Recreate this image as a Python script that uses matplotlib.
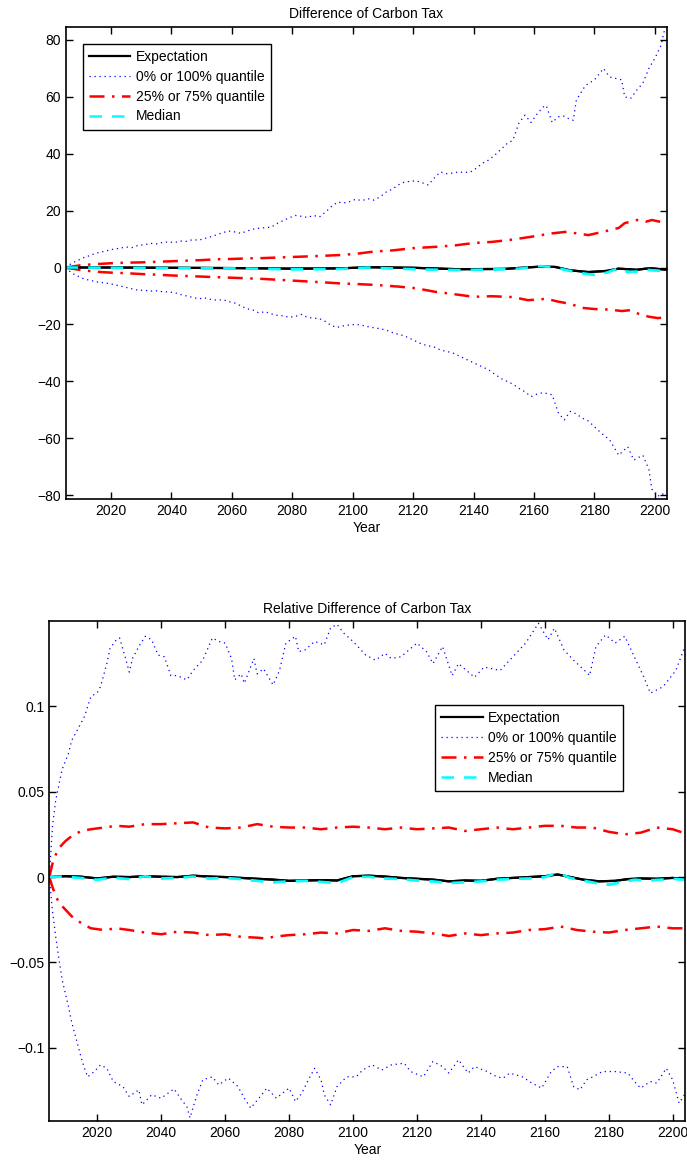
import matplotlib
matplotlib.use("Agg")
import matplotlib.pyplot as plt

plt.rcParams['font.family'] = ['Liberation Sans', 'DejaVu Sans']
plt.rcParams['font.size'] = 10

# --- absolute difference of carbon tax ---
top_max_years = [2005, 2007, 2009, 2011, 2013, 2015, 2017, 2019, 2021, 2023, 2025, 2027, 2029, 2031, 2033,
                 2035, 2037, 2039, 2041, 2043, 2045, 2047, 2049, 2051, 2053, 2055, 2057, 2059, 2061, 2063,
                 2065, 2067, 2069, 2071, 2073, 2075, 2077, 2079, 2081, 2083, 2085, 2087, 2089, 2091, 2093,
                 2095, 2097, 2099, 2101, 2103, 2105, 2107, 2109, 2111, 2113, 2115, 2117, 2119, 2121, 2123,
                 2125, 2127, 2129, 2131, 2133, 2135, 2137, 2139, 2141, 2143, 2145, 2147, 2149, 2151, 2153,
                 2155, 2157, 2159, 2161, 2163, 2164, 2166, 2168, 2170, 2172, 2173, 2174, 2177, 2180, 2183,
                 2185, 2187, 2189, 2190, 2192, 2194, 2196, 2198, 2200, 2202, 2203, 2204]
top_max = [0, 1.5, 2.5, 3.5, 4.2, 5, 5.5, 6, 6.5, 6.8, 7.2, 7, 7.8, 8, 8.5,
           8.3, 8.8, 9, 8.8, 9.3, 9.2, 9.8, 9.6, 10.2, 10.8, 11.5, 12.3, 12.8, 12.5, 12.0,
           12.8, 13.5, 13.8, 14, 14.2, 15.5, 16.5, 17.5, 18.3, 18, 17.6, 18.3, 17.8, 19.5, 21.5,
           23, 22.7, 23.2, 24, 23.5, 24.2, 23.7, 24.8, 26.5, 27.5, 29, 30, 30.3, 30.5, 29.8,
           29, 31.5, 33.6, 33, 33.2, 33.6, 33.4, 33.6, 35, 36.7, 37.8, 39.5, 41.5, 43.5, 44.8,
           50.8, 53.6, 51, 54, 56.4, 57, 51, 53, 53.2, 52, 51.8, 58.9, 64, 66, 70,
           67, 66.5, 66, 60, 59.5, 62.4, 64.8, 70, 73.6, 78, 82.8, 84.3]

top_min_years = [2005, 2007, 2009, 2011, 2013, 2015, 2017, 2019, 2021, 2023, 2025, 2027, 2029, 2031, 2033,
                 2035, 2037, 2039, 2041, 2043, 2045, 2047, 2049, 2051, 2053, 2055, 2057, 2059, 2061, 2063,
                 2065, 2067, 2069, 2071, 2073, 2075, 2077, 2079, 2081, 2083, 2085, 2087, 2089, 2091, 2093,
                 2095, 2097, 2099, 2101, 2103, 2105, 2107, 2109, 2111, 2113, 2115, 2117, 2119, 2121, 2123,
                 2125, 2127, 2129, 2131, 2133, 2135, 2137, 2139, 2141, 2143, 2145, 2147, 2149, 2151, 2153,
                 2155, 2157, 2159, 2161, 2163, 2165, 2166, 2168, 2170, 2172, 2174, 2176, 2178, 2180, 2182,
                 2185, 2188, 2191, 2193, 2196, 2198, 2199, 2201, 2202, 2204]
top_min = [0, -2, -3, -4, -4.5, -5, -5.3, -5.6, -6, -6.5, -7, -7.5, -8, -8, -8.3,
           -8.2, -8.5, -8.6, -8.8, -9.5, -10, -10.5, -11, -10.7, -11.2, -11.5, -11.3, -12, -12.5, -13.5,
           -14.5, -15, -16, -15.5, -16.3, -16.8, -17, -17.5, -17.2, -16.5, -17.5, -17.8, -18, -19, -20.5,
           -21, -20.5, -20.2, -20, -20.3, -20.8, -21.2, -21.5, -22, -22.8, -23.5, -24, -25, -26, -27,
           -27.5, -28, -29, -29.5, -30, -31, -32, -33, -34, -35, -36, -37.5, -39, -40, -41,
           -42.5, -43.7, -45.4, -44.5, -44, -44.5, -44.8, -51, -53.6, -50.6, -51.5, -53, -54, -56, -58,
           -60.6, -66, -63, -67.7, -66, -71, -78, -80.5, -79.5, -80]

top_q75_years = [2005, 2010, 2015, 2020, 2025, 2030, 2035, 2040, 2045, 2050, 2055, 2060, 2065, 2070, 2075,
                 2080, 2085, 2090, 2096, 2101, 2107, 2113, 2120, 2128, 2134, 2140, 2146, 2152, 2159, 2166,
                 2171, 2174, 2178, 2183, 2188, 2190, 2194, 2197, 2199, 2203, 2204]
top_q75 = [0, 0.8, 1.2, 1.5, 1.7, 1.8, 2.0, 2.2, 2.4, 2.6, 2.9, 3.0, 3.2, 3.3, 3.5,
           3.7, 3.9, 4.1, 4.4, 4.8, 5.6, 6.0, 6.8, 7.3, 7.8, 8.6, 9.0, 9.7, 10.8, 12.0,
           12.6, 12.0, 11.4, 12.6, 13.9, 15.6, 16.7, 16.1, 16.7, 15.8, 16]

top_q25_years = [2005, 2010, 2015, 2020, 2025, 2030, 2035, 2040, 2045, 2050, 2055, 2060, 2065, 2070, 2075,
                 2080, 2085, 2090, 2096, 2101, 2107, 2115, 2121, 2127, 2133, 2140, 2146, 2153, 2158, 2164,
                 2168, 2172, 2176, 2180, 2185, 2189, 2192, 2195, 2198, 2201, 2204]
top_q25 = [0, -0.9, -1.5, -1.8, -2.0, -2.3, -2.5, -2.8, -3.0, -3.2, -3.4, -3.6, -3.8, -4.0, -4.3,
           -4.6, -4.9, -5.2, -5.6, -5.8, -6.1, -6.7, -7.3, -8.5, -9.3, -10.3, -10.1, -10.4, -11.5, -11.0,
           -12.0, -12.8, -14.2, -14.6, -14.8, -15.3, -15.0, -16.5, -17.3, -17.8, -17.4]

top_exp_years = [2005, 2020, 2040, 2060, 2080, 2096, 2105, 2120, 2135, 2150, 2162, 2167, 2172, 2178, 2184,
                 2188, 2191, 2194, 2197, 2199, 2202, 2204]
top_exp = [0, 0, -0.1, -0.2, -0.4, -0.3, 0.1, -0.1, -0.6, -0.5, 0.3, 0.2, -1.0, -1.6, -1.2,
           -0.4, -0.6, -0.8, -0.4, -0.3, -0.6, -0.8]

top_med_years = [2005, 2020, 2040, 2060, 2080, 2096, 2105, 2115, 2125, 2135, 2145, 2155, 2162, 2167, 2172,
                 2176, 2180, 2184, 2188, 2191, 2194, 2197, 2200, 2204]
top_med = [0, -0.1, -0.2, -0.3, -0.6, -0.5, 0.0, -0.4, -0.7, -0.9, -0.7, -0.4, 0.5, 0.0, -1.2,
           -2.0, -2.6, -1.8, -0.2, -1.6, -1.4, -0.8, -1.0, -1.3]

# --- relative difference of carbon tax ---
rel_max_years = [2005, 2006, 2007, 2008, 2009, 2011, 2012, 2014, 2016, 2018, 2020, 2021, 2023, 2024, 2026,
                 2027, 2029, 2030, 2031, 2033, 2035, 2037, 2039, 2041, 2043, 2045, 2048, 2050, 2053, 2056,
                 2058, 2060, 2062, 2063, 2065, 2066, 2069, 2070, 2072, 2075, 2077, 2079, 2082, 2083, 2085,
                 2088, 2091, 2093, 2095, 2097, 2100, 2102, 2104, 2107, 2110, 2112, 2115, 2120, 2123, 2125,
                 2128, 2131, 2133, 2138, 2141, 2146, 2150, 2154, 2158, 2161, 2163, 2166, 2169, 2173, 2174,
                 2176, 2179, 2182, 2185, 2188, 2191, 2193, 2197, 2201, 2204]
rel_max = [0.0, 0.03, 0.045, 0.054, 0.063, 0.0725, 0.080, 0.087, 0.094, 0.1057, 0.108, 0.1115, 0.125, 0.134, 0.139,
           0.14, 0.127, 0.120, 0.128, 0.135, 0.141, 0.139, 0.130, 0.129, 0.118, 0.118, 0.1155, 0.121, 0.127, 0.140,
           0.138, 0.137, 0.128, 0.1155, 0.119, 0.1135, 0.128, 0.119, 0.122, 0.1125, 0.121, 0.137, 0.141, 0.132, 0.133,
           0.138, 0.136, 0.146, 0.148, 0.143, 0.138, 0.134, 0.130, 0.127, 0.131, 0.128, 0.129, 0.137, 0.132, 0.125,
           0.135, 0.118, 0.125, 0.117, 0.123, 0.121, 0.129, 0.137, 0.1486, 0.139, 0.1457, 0.133, 0.127, 0.120, 0.118,
           0.135, 0.1418, 0.137, 0.141, 0.129, 0.117, 0.1077, 0.1115, 0.121, 0.136]

rel_min_years = [2005, 2006, 2007, 2008, 2009, 2010, 2011, 2012, 2013, 2014, 2015, 2016, 2017, 2019, 2021,
                 2023, 2025, 2028, 2030, 2033, 2034, 2037, 2040, 2044, 2046, 2048, 2049, 2051, 2053, 2056,
                 2058, 2061, 2064, 2066, 2068, 2071, 2073, 2076, 2080, 2082, 2084, 2086, 2088, 2090, 2091,
                 2093, 2095, 2098, 2101, 2103, 2106, 2109, 2112, 2116, 2118, 2122, 2125, 2128, 2130, 2133,
                 2136, 2138, 2142, 2145, 2147, 2149, 2153, 2156, 2159, 2162, 2164, 2167, 2169, 2171, 2173,
                 2175, 2178, 2182, 2186, 2188, 2190, 2193, 2195, 2198, 2200, 2202, 2204]
rel_min = [0, -0.02, -0.035, -0.048, -0.060, -0.068, -0.076, -0.085, -0.092, -0.099, -0.106, -0.112, -0.117, -0.114, -0.110,
           -0.112, -0.1197, -0.1227, -0.1285, -0.1246, -0.1334, -0.1275, -0.1295, -0.124, -0.1295, -0.1344, -0.141, -0.1285, -0.1187, -0.117,
           -0.1217, -0.1177, -0.1227, -0.1295, -0.1353, -0.1285, -0.1236, -0.1295, -0.1236, -0.1314, -0.1265, -0.1188, -0.112, -0.1188, -0.1275,
           -0.1334, -0.1227, -0.117, -0.117, -0.113, -0.110, -0.113, -0.110, -0.109, -0.1139, -0.117, -0.108, -0.111, -0.1148, -0.107,
           -0.1148, -0.111, -0.1139, -0.117, -0.1177, -0.1148, -0.117, -0.1207, -0.1236, -0.1139, -0.111, -0.111, -0.1227, -0.1246, -0.1188,
           -0.117, -0.1139, -0.1139, -0.1148, -0.1197, -0.1236, -0.1197, -0.1207, -0.112, -0.1188, -0.1324, -0.1265]

rel_q75_years = [2005, 2006, 2007, 2008, 2010, 2012, 2015, 2018, 2022, 2026, 2030, 2035, 2040, 2045, 2050,
                 2055, 2060, 2065, 2070, 2075, 2080, 2085, 2090, 2095, 2100, 2105, 2110, 2115, 2120, 2125,
                 2130, 2135, 2140, 2145, 2150, 2155, 2160, 2165, 2170, 2175, 2180, 2185, 2190, 2195, 2200, 2204]
rel_q75 = [0, 0.008, 0.013, 0.017, 0.021, 0.024, 0.027, 0.028, 0.029, 0.030, 0.0295, 0.031, 0.031, 0.0315, 0.032,
           0.029, 0.0285, 0.029, 0.031, 0.0295, 0.029, 0.029, 0.028, 0.029, 0.0295, 0.029, 0.028, 0.029, 0.028, 0.0285,
           0.029, 0.027, 0.028, 0.029, 0.028, 0.029, 0.030, 0.030, 0.029, 0.029, 0.0265, 0.025, 0.026, 0.029, 0.028, 0.0255]

rel_q25_years = [2005, 2006, 2007, 2008, 2010, 2012, 2015, 2018, 2022, 2026, 2030, 2035, 2040, 2045, 2050,
                 2055, 2060, 2065, 2070, 2073, 2075, 2080, 2085, 2090, 2095, 2100, 2105, 2110, 2115, 2120,
                 2125, 2130, 2135, 2140, 2145, 2150, 2155, 2160, 2165, 2170, 2175, 2180, 2185, 2190, 2195,
                 2200, 2204]
rel_q25 = [0, -0.006, -0.011, -0.015, -0.019, -0.023, -0.027, -0.030, -0.031, -0.030, -0.031, -0.0325, -0.0335, -0.032, -0.0325,
           -0.034, -0.0335, -0.035, -0.0355, -0.036, -0.035, -0.034, -0.0335, -0.0325, -0.033, -0.031, -0.0315, -0.030, -0.0315, -0.032,
           -0.033, -0.0345, -0.033, -0.034, -0.033, -0.0325, -0.031, -0.0305, -0.029, -0.031, -0.032, -0.0325, -0.031, -0.030, -0.029,
           -0.030, -0.030]

rel_exp_years = [2005, 2010, 2015, 2020, 2025, 2030, 2035, 2040, 2045, 2050, 2055, 2060, 2065, 2070, 2075,
                 2080, 2085, 2090, 2095, 2100, 2105, 2110, 2115, 2120, 2125, 2130, 2135, 2140, 2145, 2150,
                 2155, 2160, 2164, 2168, 2172, 2177, 2182, 2186, 2190, 2195, 2200, 2204]
rel_exp = [0, 0.0005, 0.0002, -0.0008, 0.0002, 0.0, 0.0005, 0.0002, 0.0, 0.0008, 0.0003, 0.0, -0.0005, -0.001, -0.0015,
           -0.0022, -0.002, -0.0018, -0.002, 0.0005, 0.0008, 0.0003, -0.0005, -0.001, -0.0015, -0.0025, -0.002, -0.0022, -0.001, -0.0005,
           0.0, 0.0005, 0.0015, 0.0, -0.0015, -0.0025, -0.0022, -0.0012, -0.0008, -0.001, -0.0005, -0.0012]

rel_med_years = [2005, 2010, 2015, 2020, 2025, 2030, 2035, 2040, 2045, 2050, 2055, 2060, 2065, 2070, 2075,
                 2080, 2085, 2090, 2095, 2100, 2105, 2110, 2115, 2120, 2125, 2130, 2135, 2140, 2145, 2150,
                 2155, 2160, 2164, 2168, 2172, 2176, 2180, 2184, 2188, 2192, 2196, 2200, 2204]
rel_med = [0, 0.0003, -0.0005, -0.0015, -0.0003, -0.0012, 0.0005, -0.0008, -0.0004, 0.0003, -0.0008, -0.0005, -0.0012, -0.0022, -0.003,
           -0.0025, -0.0022, -0.0028, -0.0035, 0.0, 0.0002, -0.0008, -0.0012, -0.002, -0.0025, -0.0035, -0.003, -0.0025, -0.0015, -0.001,
           -0.0008, 0.0, 0.0025, -0.0005, -0.002, -0.0035, -0.0045, -0.003, -0.0015, -0.002, -0.0015, -0.001, -0.0015]

year_ticks = list(range(2020, 2201, 20))
top_yticks = [-80, -60, -40, -20, 0, 20, 40, 60, 80]
top_yticklabels = ['\u221280', '\u221260', '\u221240', '\u221220', '0', '20', '40', '60', '80']
rel_yticks = [-0.1, -0.05, 0, 0.05, 0.1]
rel_yticklabels = ['\u22120.1', '\u22120.05', '0', '0.05', '0.1']

DOT = (0, (1, 3))
DASHDOT = (0, (6, 3, 1, 3))
DASH = (0, (5, 4))


def draw_panel(ax, exp, med, q75, q25, vmax, vmin):
    ax.plot(exp[0], exp[1], color='black', lw=1.6, label='Expectation')
    ax.plot(vmax[0], vmax[1], color='blue', ls=DOT, lw=0.9, label='0% or 100% quantile')
    ax.plot(q75[0], q75[1], color='red', ls=DASHDOT, lw=1.8, label='25% or 75% quantile')
    ax.plot(med[0], med[1], color='cyan', ls=DASH, lw=1.8, label='Median')
    ax.plot(vmin[0], vmin[1], color='blue', ls=DOT, lw=0.9)
    ax.plot(q25[0], q25[1], color='red', ls=DASHDOT, lw=1.8)
    # redraw centre lines on top of the quantiles
    ax.plot(exp[0], exp[1], color='black', lw=1.6)
    ax.plot(med[0], med[1], color='cyan', ls=DASH, lw=1.8)
    ax.set_xlim(2005, 2204)
    ax.set_xticks(year_ticks)
    ax.set_xlabel('Year', labelpad=2)
    ax.tick_params(direction='in', top=True, right=True, length=5, width=1, labelsize=10)
    for s in ax.spines.values():
        s.set_linewidth(1.2)


def add_legend(ax, anchor):
    leg = ax.legend(loc='upper left', bbox_to_anchor=anchor, fancybox=False, edgecolor='black',
                    framealpha=1, handlelength=3.0, borderpad=0.45, labelspacing=0.42,
                    handletextpad=0.4, fontsize=10, borderaxespad=0)
    leg.get_frame().set_linewidth(1.0)
    return leg


fig = plt.figure(figsize=(6.87, 11.63), dpi=100)

ax1 = fig.add_axes([0.0956, 0.5707, 0.8753, 0.4064])
draw_panel(ax1, (top_exp_years, top_exp), (top_med_years, top_med),
           (top_q75_years, top_q75), (top_q25_years, top_q25),
           (top_max_years, top_max), (top_min_years, top_min))
ax1.set_ylim(-81.5, 84.7)
ax1.set_yticks(top_yticks)
ax1.set_yticklabels(top_yticklabels)
ax1.set_title('Difference of Carbon Tax', fontsize=10, pad=6)
add_legend(ax1, (0.028, 0.964))

ax2 = fig.add_axes([0.0718, 0.0359, 0.926, 0.4302])
draw_panel(ax2, (rel_exp_years, rel_exp), (rel_med_years, rel_med),
           (rel_q75_years, rel_q75), (rel_q25_years, rel_q25),
           (rel_max_years, rel_max), (rel_min_years, rel_min))
ax2.set_ylim(-0.143, 0.15)
ax2.set_yticks(rel_yticks)
ax2.set_yticklabels(rel_yticklabels)
ax2.set_title('Relative Difference of Carbon Tax', fontsize=10, pad=6)
add_legend(ax2, (0.606, 0.832))

fig.savefig('out.png', dpi=100)
